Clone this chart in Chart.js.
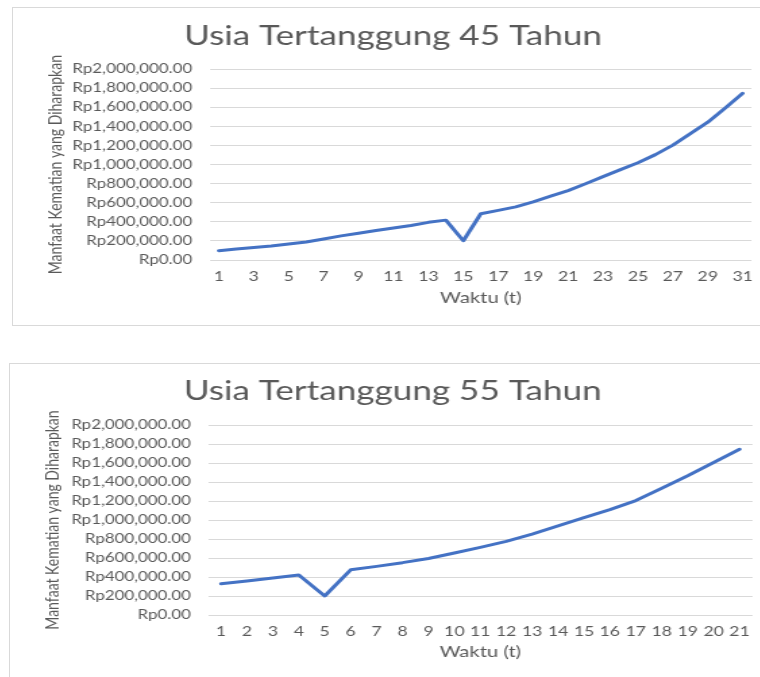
<!DOCTYPE html>
<html>
<head>
<meta charset="utf-8">
<script src="https://cdn.jsdelivr.net/npm/chart.js@4/dist/chart.umd.min.js"></script>
<style>
  html, body { margin: 0; padding: 0; background: #ffffff; width: 760px; height: 677px; overflow: hidden; }
  .box { position: absolute; border: 1px solid #d9d9d9; background: #fff; }
  canvas { position: absolute; transform: scaleX(1.35); transform-origin: 0 0; }
</style>
</head>
<body>
<div class="box" style="left:12px; top:7px; width:800px; height:317px;"></div>
<div class="box" style="left:9px; top:363px; width:800px; height:400px;"></div>
<canvas id="c45" width="563" height="317" style="left:13px; top:8px;"></canvas>
<canvas id="c55" width="567" height="313" style="left:10px; top:364px;"></canvas>
<script>
// ---- data ----
const title45 = "Usia Tertanggung 45 Tahun";
const title55 = "Usia Tertanggung 55 Tahun";
const yAxisTitle = "Manfaat Kematian yang Diharapkan";
const xAxisTitle = "Waktu (t)";

const years45 = ["1","2","3","4","5","6","7","8","9","10","11","12","13","14","15","16","17","18","19","20","21","22","23","24","25","26","27","28","29","30","31"];
const benefit45 = [98000,116000,130000,147000,168000,189000,221000,253000,281000,309000,335000,362000,395000,418000,202000,485000,520000,557000,610000,670000,728000,800000,875000,948000,1020000,1105000,1205000,1325000,1445000,1595000,1748000];

const years55 = ["1","2","3","4","5","6","7","8","9","10","11","12","13","14","15","16","17","18","19","20","21"];
const benefit55 = [328000,358000,389000,421000,200000,476000,512000,551000,595000,652000,712000,775000,852000,937000,1025000,1109000,1205000,1335000,1465000,1605000,1745000];

const yMin = 0, yMax = 2000000, yStep = 200000;

// ---- styles ----
const TXT = "#595959";
const GRID = "#d9d9d9";
const LINE = "#4472C4";
const FONT = "Lato, 'Open Sans', sans-serif";

function rp(v) {
  return "Rp" + Number(v).toLocaleString("en-US", {minimumFractionDigits: 2, maximumFractionDigits: 2});
}

function makeChart(id, labels, values, titleText, g) {
  return new Chart(document.getElementById(id), {
    type: "line",
    data: {
      labels: labels,
      datasets: [{
        data: values,
        borderColor: LINE,
        backgroundColor: LINE,
        borderWidth: 3,
        pointRadius: 0,
        tension: 0,
        borderCapStyle: "round",
        borderJoinStyle: "round",
        fill: false
      }]
    },
    options: {
      responsive: false,
      animation: false,
      devicePixelRatio: 1,
      layout: { padding: { left: g.pad, right: g.pad, top: 0, bottom: 0 } },
      plugins: {
        legend: { display: false },
        tooltip: { enabled: false },
        title: {
          display: true,
          text: titleText,
          color: TXT,
          font: { family: FONT, size: 26, weight: "normal" },
          padding: { top: g.titleTop, bottom: g.titleBottom }
        }
      },
      scales: {
        x: {
          offset: true,
          grid: { display: false, drawTicks: false },
          border: { display: false },
          ticks: {
            color: TXT,
            font: { family: FONT, size: 13 },
            padding: g.xTickPad,
            autoSkip: false,
            maxRotation: 0,
            minRotation: 0,
            callback: function(val, idx) {
              return (idx % g.every === 0) ? this.getLabelForValue(val) : "";
            }
          },
          title: {
            display: true,
            text: xAxisTitle,
            color: TXT,
            font: { family: FONT, size: 15 },
            padding: { top: 0, bottom: g.xTitleBottom }
          },
          afterFit: function(s) { s.height = g.xHeight; }
        },
        y: {
          min: yMin,
          max: yMax,
          grid: { color: GRID, lineWidth: 1, drawTicks: false },
          border: { display: false },
          ticks: {
            stepSize: yStep,
            autoSkip: false,
            color: TXT,
            font: { family: FONT, size: 12.5 },
            padding: g.yTickPad,
            callback: function(v) { return rp(v); }
          },
          title: {
            display: true,
            text: yAxisTitle,
            color: TXT,
            font: { family: FONT, size: 14 },
            padding: { top: g.yTitleTop, bottom: 0 }
          },
          afterFit: function(s) { s.width = g.yWidth; }
        }
      }
    }
  });
}

makeChart("c45", years45, benefit45, title45, {
  pad: 16, yWidth: 130, yTickPad: 13.3, yTitleTop: 6.7,
  titleTop: 13.5, titleBottom: 16.6,
  xHeight: 65, xTickPad: 9.2, xTitleBottom: 17.5, every: 2
});
makeChart("c55", years55, benefit55, title55, {
  pad: 17, yWidth: 129.7, yTickPad: 12.7, yTitleTop: 5.7,
  titleTop: 12.2, titleBottom: 17.6,
  xHeight: 62, xTickPad: 9.2, xTitleBottom: 15.5, every: 1
});
</script>
</body>
</html>
